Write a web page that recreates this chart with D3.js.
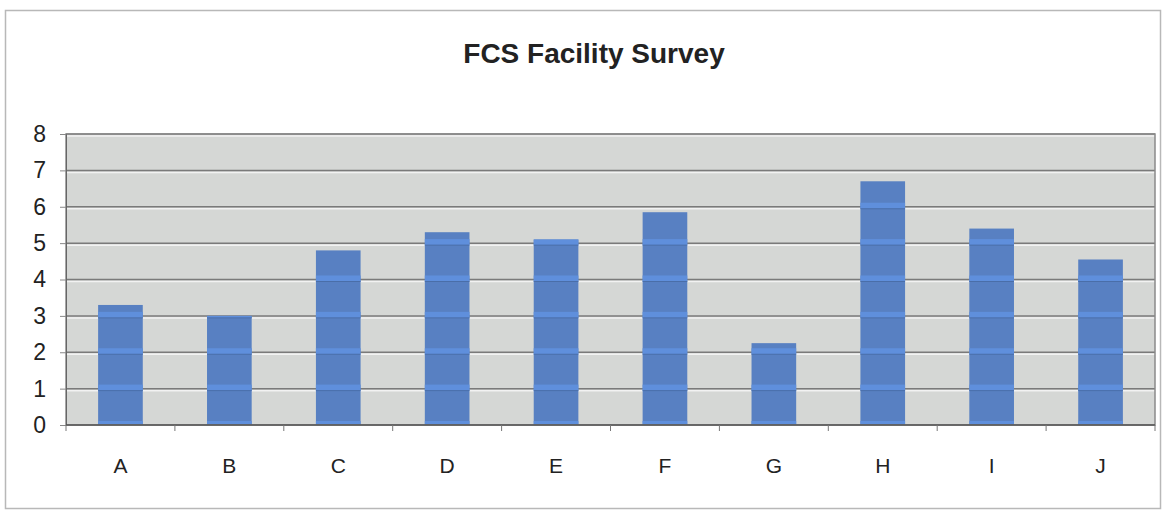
<!DOCTYPE html>
<meta charset="utf-8">
<script src="https://d3js.org/d3.v7.min.js"></script>
<style>
body { margin: 0; background: #fff; }
text { font-family: "Liberation Sans", Arial, sans-serif; }
</style>
<div id="chart"></div>
<script>
// data
var categories = ["A", "B", "C", "D", "E", "F", "G", "H", "I", "J"];
var values = [3.3, 3.0, 4.8, 5.3, 5.1, 5.85, 2.25, 6.7, 5.4, 4.55];
var yTicks = [0, 1, 2, 3, 4, 5, 6, 7, 8];

var W = 1164, H = 512;
var margin = {top: 134, right: 9, bottom: 87, left: 66},
    width = W - margin.left - margin.right,
    height = H - margin.top - margin.bottom;

var root = d3.select("#chart").append("svg")
    .attr("width", W)
    .attr("height", H);

// outer chart frame
root.append("rect")
    .attr("x", 5.5).attr("y", 10.5)
    .attr("width", W - 9).attr("height", H - 14)
    .attr("fill", "#fff")
    .attr("stroke", "#b8b8b8")
    .attr("stroke-width", 1.5);

root.append("text")
    .attr("x", 594).attr("y", 63)
    .attr("text-anchor", "middle")
    .style("font-size", "28px")
    .style("font-weight", "bold")
    .attr("fill", "#222")
    .text("FCS Facility Survey");

var svg = root.append("g")
    .attr("transform", "translate(" + margin.left + "," + margin.top + ")");

var x = d3.scaleBand()
    .domain(categories)
    .range([0, width])
    .paddingInner(0.59)
    .paddingOuter(0.295);

var xBand = d3.scaleBand().domain(categories).range([0, width]);

var y = d3.scaleLinear()
    .domain([0, 8])
    .range([height, 0]);

// plot background
svg.append("rect")
    .attr("width", width)
    .attr("height", height)
    .attr("fill", "#d5d7d5");

// gridlines
svg.append("g")
    .selectAll("line")
    .data(yTicks.slice(1))
    .enter().append("line")
      .attr("x1", 0).attr("x2", width)
      .attr("y1", function(d) { return y(d) + 2; })
      .attr("y2", function(d) { return y(d) + 2; })
      .attr("stroke", "#f2f2f2")
      .attr("stroke-width", 1.5);
svg.append("g")
    .selectAll("line")
    .data(yTicks.slice(1))
    .enter().append("line")
      .attr("x1", 0).attr("x2", width)
      .attr("y1", function(d) { return y(d); })
      .attr("y2", function(d) { return y(d); })
      .attr("stroke", "#7a7a7a")
      .attr("stroke-width", 1.5);

// bars
svg.append("g")
    .selectAll("rect")
    .data(values)
    .enter().append("rect")
      .attr("x", function(d, i) { return x(categories[i]); })
      .attr("y", function(d) { return y(d); })
      .attr("width", x.bandwidth())
      .attr("height", function(d) { return height - y(d); })
      .attr("fill", "#5880c2");

// lighter stripes where gridlines cross the bars (kept inside the bar)
values.forEach(function(v, i) {
  var levels = yTicks.filter(function(t) { return t <= v; });
  var top = y(v);
  svg.append("g")
    .selectAll("rect")
    .data(levels)
    .enter().append("rect")
      .attr("x", x(categories[i]))
      .attr("y", function(d) { return Math.max(top, y(d) - 4); })
      .attr("width", x.bandwidth())
      .attr("height", function(d) { return Math.min(y(d) + 2, height) - Math.max(top, y(d) - 4); })
      .attr("fill", "#5f8fdc");
  svg.append("g")
    .selectAll("line")
    .data(levels.filter(function(t) { return t > 0; }))
    .enter().append("line")
      .attr("x1", x(categories[i]))
      .attr("x2", x(categories[i]) + x.bandwidth())
      .attr("y1", function(d) { return y(d) + 2; })
      .attr("y2", function(d) { return y(d) + 2; })
      .attr("stroke", "#4a6ea8")
      .attr("stroke-width", 1);
});

// plot border
svg.append("rect")
    .attr("width", width)
    .attr("height", height)
    .attr("fill", "none")
    .attr("stroke", "#8a8a8a")
    .attr("stroke-width", 1.5);

// y axis
var yAxis = svg.append("g")
    .call(d3.axisLeft(y).tickValues(yTicks).tickSize(6).tickPadding(14));
yAxis.select(".domain").attr("stroke", "#666");
yAxis.selectAll(".tick line").attr("stroke", "#888");
yAxis.selectAll("text")
    .style("font-size", "23px")
    .attr("fill", "#222");

// x axis: ticks on the band boundaries
var xAxis = svg.append("g")
    .attr("transform", "translate(0," + height + ")");
xAxis.append("line")
    .attr("x1", 0).attr("x2", width)
    .attr("stroke", "#555")
    .attr("stroke-width", 1.5);
xAxis.selectAll(".tk")
    .data(categories.concat(["end"]))
    .enter().append("line")
      .attr("class", "tk")
      .attr("x1", function(d, i) { return i < categories.length ? xBand(d) : width; })
      .attr("x2", function(d, i) { return i < categories.length ? xBand(d) : width; })
      .attr("y1", 0).attr("y2", 6)
      .attr("stroke", "#777");
xAxis.selectAll("text")
    .data(categories)
    .enter().append("text")
      .attr("x", function(d) { return xBand(d) + xBand.bandwidth() / 2; })
      .attr("y", 48)
      .attr("text-anchor", "middle")
      .style("font-size", "21px")
      .attr("fill", "#222")
      .text(function(d) { return d; });
</script>
